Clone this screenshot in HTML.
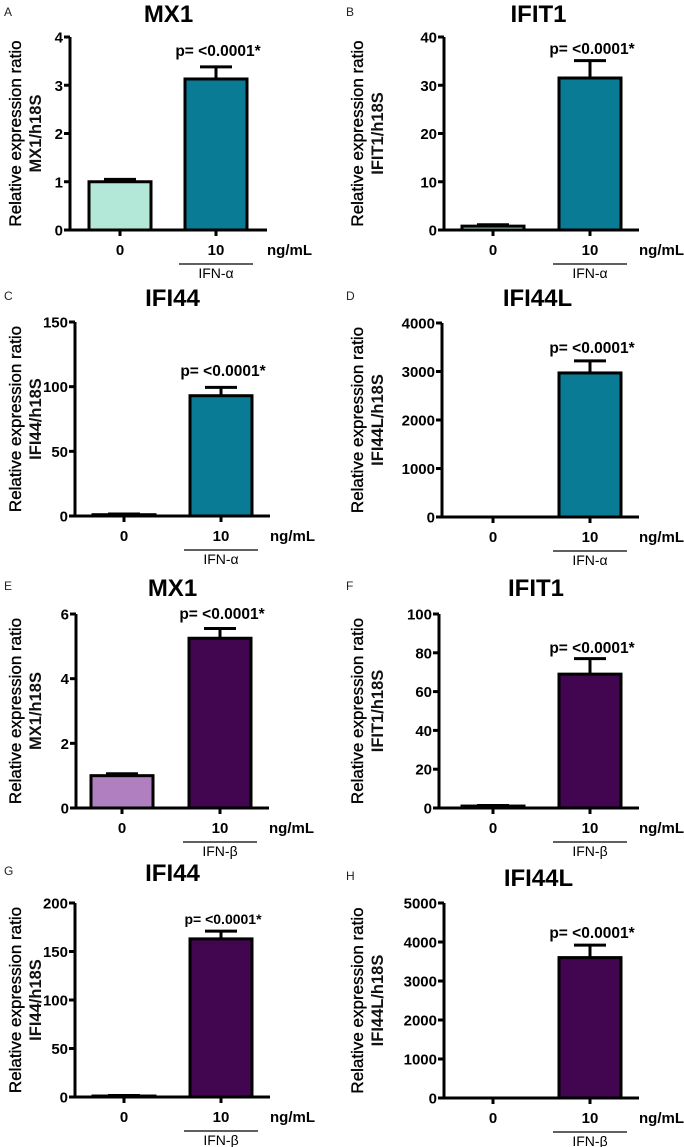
<!DOCTYPE html>
<html><head><meta charset="utf-8"><style>
html,body{margin:0;padding:0;background:#fff;}
svg{display:block;font-family:"Liberation Sans",sans-serif;}
</style></head><body>
<svg id="fig" width="684" height="1147" viewBox="0 0 684 1147" xmlns="http://www.w3.org/2000/svg"></svg>
<script>
// data arrays
const panelLetters = ["A","B","C","D","E","F","G","H"];
const panelTitles = ["MX1","IFIT1","IFI44","IFI44L","MX1","IFIT1","IFI44","IFI44L"];
const yLabels2 = ["MX1/h18S","IFIT1/h18S","IFI44/h18S","IFI44L/h18S","MX1/h18S","IFIT1/h18S","IFI44/h18S","IFI44L/h18S"];
const categories = ["0","10"];
const treatments = ["IFN-\u03b1","IFN-\u03b1","IFN-\u03b1","IFN-\u03b1","IFN-\u03b2","IFN-\u03b2","IFN-\u03b2","IFN-\u03b2"];
const means0 = [1.0, 0.8, 1, 0, 1.0, 1, 1, 0];
const means10 = [3.13, 31.5, 93, 2970, 5.25, 69, 163, 3600];
const errs0 = [0.05, 0.3, 0.5, 0, 0.06, 0.3, 0.5, 0];
const errs10 = [0.25, 3.6, 6.5, 250, 0.3, 8, 8, 320];
const yMax = [4, 40, 150, 4000, 6, 100, 200, 5000];
const yStep = [1, 10, 50, 1000, 2, 20, 50, 1000];
const pLabels = ["p= <0.0001*","p= <0.0001*","p= <0.0001*","p= <0.0001*","p= <0.0001*","p= <0.0001*","p= <0.0001*","p= <0.0001*"];

// layout (not data)
const layout = [
 {ax:70, top:37, zero:230, c0:120, c1:216, end:267, title:22, pY:56, pFs:15.5},
 {ax:444, top:37, zero:230, c0:493, c1:590, end:639, title:22, pY:54, pFs:15.5},
 {ax:75, top:322, zero:516, c0:124, c1:221, end:270, title:306, pY:376, pFs:15.5},
 {ax:442, top:323, zero:517, c0:493, c1:590, end:639, title:306, pY:353, pFs:15.5},
 {ax:76, top:614, zero:808, c0:122, c1:220, end:269, title:596, pY:619, pFs:15.5},
 {ax:439, top:614, zero:808, c0:493, c1:590, end:639, title:596, pY:653, pFs:15.5},
 {ax:75, top:903, zero:1097, c0:124, c1:221, end:270, title:881, pY:924, pFs:14},
 {ax:444, top:903, zero:1098, c0:493, c1:590, end:639, title:886, pY:938, pFs:15.5}
];
const fill0 = ["#b3e8d8","#b3e8d8","#b3e8d8","#b3e8d8","#b07fbf","#b07fbf","#b07fbf","#b07fbf"];
const fill1 = ["#0a7b94","#0a7b94","#0a7b94","#0a7b94","#42054f","#42054f","#42054f","#42054f"];

const NS="http://www.w3.org/2000/svg";
const svg=document.getElementById('fig');
function mk(tag, attrs, parent, text){
  const e=document.createElementNS(NS,tag);
  for(const k in attrs) e.setAttribute(k, attrs[k]);
  if(text!==undefined) e.textContent=text;
  (parent||svg).appendChild(e);
  return e;
}
for(let i=0;i<8;i++){
  const L=layout[i];
  const g=mk('g',{});
  
  
  const yS=v=>L.zero-(v/yMax[i])*(L.zero-L.top);
  const colX=(L.ax<300)?0:342;
  let t=mk('text',{x:colX+4,y:L.title-6,'font-size':12,fill:'#222'},g,panelLetters[i]);
  
  
  t=mk('text',{x:(L.ax+L.end)/2+(colX?-3:0),y:L.title,'font-size':24,'font-weight':'bold','text-anchor':'middle'},g,panelTitles[i]);
  
  
  const cy=(L.top+L.zero)/2;
  t=mk('text',{x:0,y:0,'font-size':17,'text-anchor':'middle',stroke:'#000','stroke-width':0.35,transform:`translate(${colX+21},${cy}) rotate(-90)`},g,'Relative expression ratio');
  
  
  t=mk('text',{x:0,y:0,'font-size':16.5,'font-weight':'bold','text-anchor':'middle',fill:'#111',transform:`translate(${colX+41},${cy}) rotate(-90)`},g,yLabels2[i]);
  
  
  const bars=[[means0[i],errs0[i],fill0[i],L.c0],[means10[i],errs10[i],fill1[i],L.c1]];
  bars.forEach((b,j)=>{
    const [m,e,f,cx]=b;
    const yt=yS(m);
    if(m>0){
      const top=yS(m+e);
      const l=mk('path',{d:`M${cx},${yt} V${top} M${cx-16},${top} H${cx+16}`,stroke:'#000','stroke-width':3,fill:'none'},g);
      
      
      const r=mk('rect',{x:cx-31,y:yt,width:62,height:Math.max(L.zero-yt,0),fill:f,stroke:'#000','stroke-width':3},g);
      
      
    }
  });
  let a=mk('path',{d:`M${L.ax},${L.top} V${L.zero} H${L.end}`,stroke:'#000','stroke-width':3,fill:'none'},g);
  
  
  for(let v=0;v<=yMax[i]+1e-9;v+=yStep[i]){
    const y=yS(v);
    mk('line',{x1:L.ax-6,x2:L.ax,y1:y,y2:y,stroke:'#000','stroke-width':3},g);
    t=mk('text',{x:L.ax-7,y:y+5.5,'font-size':15,'font-weight':'bold','text-anchor':'end'},g,String(v));
    
    
  }
  [L.c0,L.c1].forEach((cx,j)=>{
    mk('line',{x1:cx,x2:cx,y1:L.zero,y2:L.zero+6,stroke:'#000','stroke-width':3},g);
    t=mk('text',{x:cx,y:L.zero+25,'font-size':15,'font-weight':'bold','text-anchor':'middle'},g,categories[j]);
    
    
  });
  t=mk('text',{x:L.end,y:L.zero+25,'font-size':15,'font-weight':'bold'},g,'ng/mL');
  
  
  mk('line',{x1:L.c1-37,x2:L.c1+37,y1:L.zero+34,y2:L.zero+34,stroke:'#000','stroke-width':1.3},g);
  t=mk('text',{x:L.c1,y:L.zero+48,'font-size':14,'text-anchor':'middle'},g,treatments[i]);
  
  
  t=mk('text',{x:L.c1+2,y:L.pY,'font-size':L.pFs,'font-weight':'bold','text-anchor':'middle'},g,pLabels[i]);
  
  
}
</script>
</body></html>
